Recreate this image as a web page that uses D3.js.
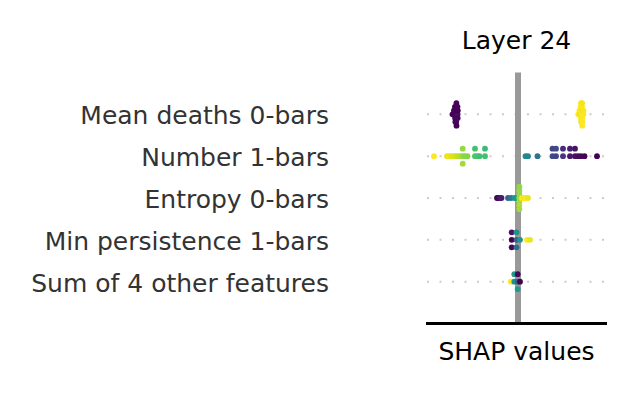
<!doctype html>
<html>
 <head>
 <meta charset="utf-8">
 <title>Layer 24</title>
	<script src="https://d3js.org/d3.v7.min.js"></script>
	<style>
body {
    margin: 0;
    background: #fff;
	}
text {
    font-family: 'DejaVu Sans', sans-serif;
	}
	</style>
  </head>
  <body>
    <div id="container"></div>
	 <script>

	 // features, top to bottom
	 var features = ["Mean deaths 0-bars", "Number 1-bars", "Entropy 0-bars", "Min persistence 1-bars", "Sum of 4 other features"];

	 // SHAP values and (normalised) feature values for each feature
	 var shapMeanDeaths0 = [-0.655, -0.643, -0.641, -0.630, -0.628, -0.629, -0.631, -0.627, -0.617, -0.615, -0.616, -0.614, -0.618, -0.616, -0.615, -0.604, -0.602, -0.603, -0.605,
	                         0.603, 0.617, 0.615, 0.628, 0.630, 0.629, 0.627, 0.631, 0.629, 0.641, 0.643, 0.642, 0.640, 0.644, 0.641, 0.642, 0.654, 0.655];
	 var fvMeanDeaths0 = [0.0, 0.02, 0.01, 0.0, 0.03, 0.01, 0.0, 0.02, 0.0, 0.01, 0.03, 0.0, 0.02, 0.01, 0.0, 0.04, 0.0, 0.02, 0.01,
	                       1.0, 0.98, 1.0, 0.97, 1.0, 0.99, 1.0, 0.98, 1.0, 1.0, 0.97, 1.0, 0.99, 1.0, 0.98, 1.0, 1.0, 0.99];

	 var shapNumber1 = [-0.84, -0.71, -0.69, -0.67, -0.645, -0.625, -0.60, -0.575, -0.553, -0.553, -0.553, -0.53, -0.505, -0.43, -0.43, -0.405, -0.385, -0.33, -0.33,
	                     0.075, 0.10, 0.195, 0.345, 0.345, 0.38, 0.38, 0.45, 0.45, 0.52, 0.52, 0.57, 0.57, 0.60, 0.63, 0.665, 0.79];
	 var fvNumber1 = [1.0, 0.97, 0.98, 0.96, 0.95, 0.93, 0.9, 0.88, 0.85, 0.84, 0.86, 0.82, 0.82, 0.72, 0.7, 0.72, 0.7, 0.7, 0.68,
	                   0.48, 0.45, 0.38, 0.22, 0.2, 0.2, 0.22, 0.15, 0.12, 0.06, 0.08, 0.04, 0.05, 0.03, 0.02, 0.01, 0.0];

	 var shapEntropy0 = [-0.21, -0.195, -0.18, -0.165, -0.10, -0.07, -0.035, -0.015, 0.013, 0.013, 0.013, 0.013, 0.013, 0.013, 0.013, 0.04, 0.06, 0.08, 0.10];
	 var fvEntropy0 = [0.0, 0.02, 0.05, 0.08, 0.32, 0.4, 0.5, 0.55, 0.86, 0.84, 0.87, 0.85, 0.88, 0.83, 0.86, 1.0, 0.98, 1.0, 0.97];

	 var shapMinPers1 = [-0.063, -0.063, -0.063, -0.015, -0.015, -0.015, 0.02, 0.09, 0.12];
	 var fvMinPers1 = [0.0, 0.05, 0.02, 0.32, 0.5, 0.35, 0.52, 1.0, 0.97];

	 var shapOther4 = [-0.073, -0.037, -0.037, -0.003, -0.003, -0.003, 0.02];
	 var fvOther4 = [1.0, 0.5, 0.55, 0.33, 0.02, 0.55, 0.0];

	 var shapRows = [shapMeanDeaths0, shapNumber1, shapEntropy0, shapMinPers1, shapOther4];
	 var fvRows = [fvMeanDeaths0, fvNumber1, fvEntropy0, fvMinPers1, fvOther4];

	 var width = 634,
		 height = 394;

	 var svg = d3.select("#container")
		.append("svg")
		.attr("width", width)
		.attr("height", height);

	 var x = d3.scaleLinear().domain([-0.92, 0.89]).range([426, 607]);
	 // row index, -1 .. n (top to bottom)
	 var y = d3.scaleLinear().domain([-1, features.length]).range([72.5, 323.5]);

	 var rowHeight = 0.4,
		 nbins = 100;

	 // shap style beeswarm: stack points that fall in the same bin
	 function swarm(vals) {
		var lo = d3.min(vals), hi = d3.max(vals);
		var quant = vals.map(function(v){ return Math.round(nbins * (v - lo) / (hi - lo + 1e-8)); });
		var inds = d3.range(vals.length).sort(function(a, b){ return quant[a] - quant[b] || a - b; });
		var ys = vals.map(function(){ return 0; });
		var layer = 0, last = -1;
		inds.forEach(function(i){
			if (quant[i] != last) layer = 0;
			ys[i] = Math.ceil(layer / 2) * ((layer % 2) * 2 - 1);
			layer++;
			last = quant[i];
		});
		var m = d3.max(ys, function(d){ return d + 1; });
		return ys.map(function(d){ return d * 0.9 * rowHeight / m; });
	 }

	 // dotted guide lines
	 svg.selectAll(".grid")
		.data(features)
		.enter().append("line")
		.attr("class", "grid")
		.attr("x1", 427)
		.attr("x2", x.range()[1])
		.attr("y1", function(d, i){ return y(i); })
		.attr("y2", function(d, i){ return y(i); })
		.attr("stroke", "#cccccc")
		.attr("stroke-width", 2)
		.attr("stroke-dasharray", "2,10.5");

	 // zero line
	 svg.append("line")
		.attr("x1", x(0)).attr("x2", x(0))
		.attr("y1", y(-1)).attr("y2", y(features.length))
		.attr("stroke", "#999999")
		.attr("stroke-width", 6);

	 var points = [];
	 shapRows.forEach(function(vals, i){
		var off = swarm(vals);
		vals.forEach(function(v, j){
			points.push({ row: i, shap: v, fv: fvRows[i][j], dy: off[j] });
		});
	 });

	 svg.selectAll(".dot")
		.data(points)
		.enter().append("circle")
		.attr("class", "dot")
		.attr("cx", function(d){ return x(d.shap); })
		.attr("cy", function(d){ return y(d.row - d.dy); })
		.attr("r", 2.9)
		.attr("fill", function(d){ return d3.interpolateViridis(d.fv); });

	 // bottom spine
	 svg.append("line")
		.attr("x1", x.range()[0]).attr("x2", x.range()[1])
		.attr("y1", y(features.length)).attr("y2", y(features.length))
		.attr("stroke", "#000")
		.attr("stroke-width", 3);

	 svg.selectAll(".label")
		.data(features)
		.enter().append("text")
		.attr("class", "label")
		.attr("x", 329)
		.attr("y", function(d, i){ return y(i) + 10; })
		.attr("text-anchor", "end")
		.attr("font-size", 25)
		.attr("fill", "#333333")
		.text(function(d){ return d; });

	 var mid = (x.range()[0] + x.range()[1]) / 2;

	 svg.append("text")
		.attr("x", mid)
		.attr("y", 49)
		.attr("text-anchor", "middle")
		.attr("font-size", 25)
		.attr("fill", "#000")
		.text("Layer 24");

	 svg.append("text")
		.attr("x", mid)
		.attr("y", 360)
		.attr("text-anchor", "middle")
		.attr("font-size", 25)
		.attr("fill", "#000")
		.text("SHAP values");

	</script>
  </body>
</html>
